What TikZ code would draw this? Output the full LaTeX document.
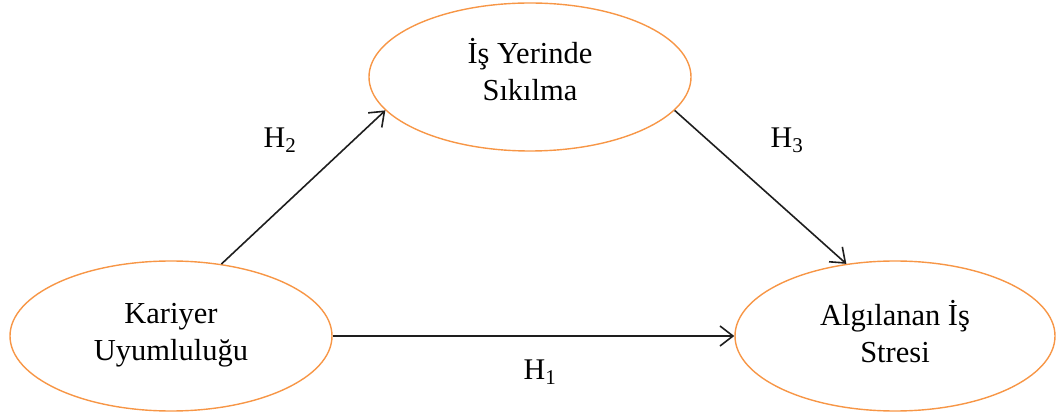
\documentclass[tikz,border=0pt]{standalone}
\usepackage{fontspec}
\setmainfont{Liberation Serif}
\usetikzlibrary{arrows.meta,shapes.geometric}
\definecolor{ovalline}{RGB}{247,150,70}
\definecolor{arrowline}{RGB}{30,30,30}
\begin{document}
\begin{tikzpicture}[x=1pt,y=-1pt,
  construct/.style={ellipse, draw=ovalline, line width=1.4pt, inner sep=0pt},
  ctext/.style={align=center, inner sep=0pt, font=\fontsize{30.5}{37}\selectfont},
  link/.style={draw=arrowline, line width=1.6pt,
    -{Straight Barb[length=13pt,width=20pt,line width=1.6pt]}},
  hlabel/.style={font=\fontsize{30}{36}\selectfont, inner sep=0pt}]
\useasboundingbox (0,0) rectangle (1057,419);

% the three constructs
\node[construct, minimum width=322pt, minimum height=148pt] (bore) at (530,77) {};
\node[construct, minimum width=322pt, minimum height=150pt] (kariyer) at (171,336) {};
\node[construct, minimum width=320pt, minimum height=150pt] (stres) at (895,336) {};

\node[ctext] (bore-t) at ([yshift=7pt]bore.center) {İş Yerinde\\Sıkılma};
\node[ctext] (kariyer-t) at ([yshift=1pt]kariyer.center) {Kariyer\\Uyumluluğu};
\node[ctext] (stres-t) at ([yshift=4pt]stres.center) {Algılanan İş\\Stresi};

% hypothesised paths
\draw[link] (kariyer.55) -- (bore.193);
\draw[link] (bore.347) -- (stres.124);
\draw[link] (kariyer.east) -- (stres.west);

\node[hlabel] (h2) at (280,140) {H\textsubscript{2}};
\node[hlabel] (h3) at (787,140) {H\textsubscript{3}};
\node[hlabel] (h1) at (540,372) {H\textsubscript{1}};
\end{tikzpicture}
\end{document}
